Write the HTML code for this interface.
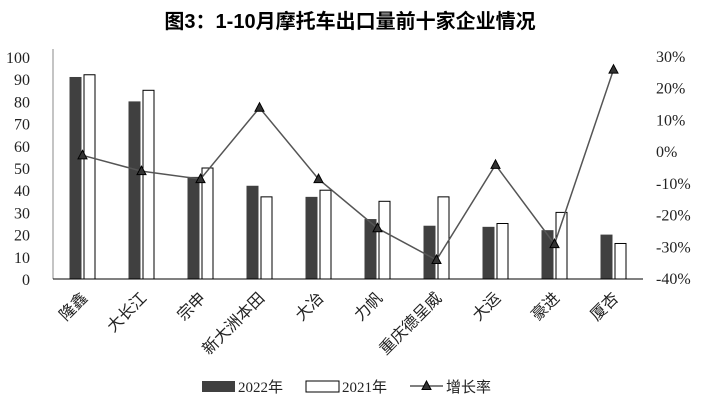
<!DOCTYPE html>
<html><head><meta charset="utf-8"><style>
body{margin:0;background:#fff;}
svg text{font-family:"Liberation Serif","Noto Sans CJK SC",serif;}
</style></head><body>
<svg width="701" height="408" xmlns="http://www.w3.org/2000/svg">
<text x="350" y="28" text-anchor="middle" font-size="20" font-weight="bold" style="font-family:'Liberation Sans','Noto Sans CJK SC',sans-serif">图3：1-10月摩托车出口量前十家企业情况</text>
<g id="plot"></g>
</svg>
<script>
const categories=["隆鑫","大长江","宗申","新大洲本田","大冶","力帆","重庆德呈威","大运","豪进","厦杏"];
const v2022=[91,80,46,42,37,27,24,23.5,22,20];
const v2021=[92,85,50,37,40,35,37,25,30,16];
const growth=[-1,-6,-8.5,14,-8.5,-24,-34,-4,-29,26];
const leftTicks=[0,10,20,30,40,50,60,70,80,90,100];
const rightTicks=[-40,-30,-20,-10,0,10,20,30];
const NS="http://www.w3.org/2000/svg";
const g=document.getElementById('plot');
const x0=53,x1=643,yB=279,yT=57;
const yL=v=>yB-(v/100)*(yB-yT);
const yR=v=>yB-((v+40)/70)*(yB-yT);
const bw=(x1-x0)/categories.length;
const cx=i=>x0+bw*(i+0.5);
function mk(t,a){const e=document.createElementNS(NS,t);for(const k in a)e.setAttribute(k,a[k]);g.appendChild(e);return e;}
let e=mk('line',{x1:x0,y1:yT-8,x2:x0,y2:yB,stroke:'#888','stroke-width':1});


leftTicks.forEach(t=>{const el=mk('text',{x:30,y:yL(t)+6,'text-anchor':'end','font-size':16,fill:'#222'});el.textContent=t;

});
rightTicks.forEach(t=>{const el=mk('text',{x:656,y:yR(t)+5,'font-size':16,fill:'#222'});el.textContent=t+'%';

});
categories.forEach((c,i)=>{
 const x=cx(i);
 let r=mk('rect',{x:x-13,y:yL(v2022[i]),width:12,height:yB-yL(v2022[i]),fill:'#404040'});
 
 
 r=mk('rect',{x:x+1.5,y:yL(v2021[i]),width:11,height:yB-yL(v2021[i]),fill:'#fff',stroke:'#000','stroke-width':1});
 
 
 const t=mk('text',{x:0,y:0,'text-anchor':'end','font-size':16,fill:'#222',transform:`translate(${x+6},${yB+20}) rotate(-45)`});
 t.textContent=c;
 
 
});
e=mk('line',{x1:x0,y1:yB,x2:x1,y2:yB,stroke:'#000','stroke-width':1});


const pl=mk('polyline',{points:growth.map((v,i)=>cx(i)+','+yR(v)).join(' '),fill:'none',stroke:'#555','stroke-width':1.5});


growth.forEach((v,i)=>{const x=cx(i),y=yR(v);
 const p=mk('polygon',{points:`${x},${y-5} ${x-4.5},${y+3.5} ${x+4.5},${y+3.5}`,fill:'#333',stroke:'#000','stroke-width':1});
 
 });
e=mk('rect',{x:202,y:381,width:33,height:11,fill:'#404040'});


e=mk('text',{x:238,y:392,'font-size':15,fill:'#222'});e.textContent='2022年';


e=mk('rect',{x:306,y:381,width:33,height:11,fill:'#fff',stroke:'#000'});


e=mk('text',{x:342,y:392,'font-size':15,fill:'#222'});e.textContent='2021年';


e=mk('line',{x1:410,y1:386,x2:443,y2:386,stroke:'#555','stroke-width':1.5});


e=mk('polygon',{points:'426.5,381 422,389.5 431,389.5',fill:'#333',stroke:'#000'});


e=mk('text',{x:446,y:392,'font-size':15,fill:'#222'});e.textContent='增长率';


</script>
</body></html>
